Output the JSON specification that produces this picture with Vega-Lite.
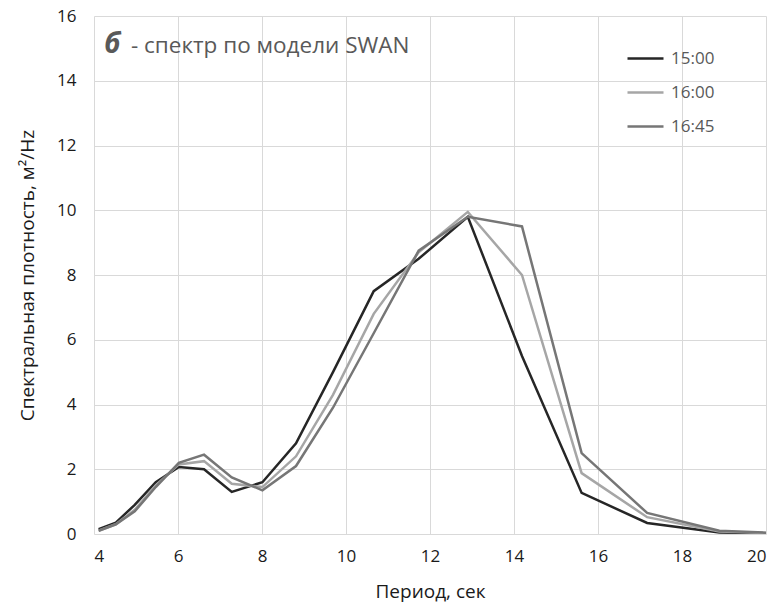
{
  "$schema": "https://vega.github.io/schema/vega-lite/v6.json",
  "width": 672,
  "height": 518,
  "autosize": "none",
  "padding": {"left": 94, "top": 16, "right": 15, "bottom": 82},
  "background": "white",
  "config": {"view": {"stroke": null}, "font": "Open Sans"},
  "datasets": {
    "spec": [
      {"period": 4.11, "value": 0.15, "series": "15:00"},
      {"period": 4.52, "value": 0.35, "series": "15:00"},
      {"period": 4.97, "value": 0.9, "series": "15:00"},
      {"period": 5.47, "value": 1.6, "series": "15:00"},
      {"period": 6.02, "value": 2.07, "series": "15:00"},
      {"period": 6.62, "value": 2.0, "series": "15:00"},
      {"period": 7.28, "value": 1.3, "series": "15:00"},
      {"period": 8.01, "value": 1.6, "series": "15:00"},
      {"period": 8.81, "value": 2.8, "series": "15:00"},
      {"period": 9.69, "value": 5.0, "series": "15:00"},
      {"period": 10.66, "value": 7.5, "series": "15:00"},
      {"period": 11.73, "value": 8.5, "series": "15:00"},
      {"period": 12.9, "value": 9.8, "series": "15:00"},
      {"period": 14.19, "value": 5.5, "series": "15:00"},
      {"period": 15.61, "value": 1.27, "series": "15:00"},
      {"period": 17.17, "value": 0.34, "series": "15:00"},
      {"period": 18.89, "value": 0.05, "series": "15:00"},
      {"period": 20.0, "value": 0.02, "series": "15:00"},
      {"period": 4.11, "value": 0.1, "series": "16:00"},
      {"period": 4.52, "value": 0.3, "series": "16:00"},
      {"period": 4.97, "value": 0.75, "series": "16:00"},
      {"period": 5.47, "value": 1.5, "series": "16:00"},
      {"period": 6.02, "value": 2.15, "series": "16:00"},
      {"period": 6.62, "value": 2.25, "series": "16:00"},
      {"period": 7.28, "value": 1.55, "series": "16:00"},
      {"period": 8.01, "value": 1.45, "series": "16:00"},
      {"period": 8.81, "value": 2.4, "series": "16:00"},
      {"period": 9.69, "value": 4.3, "series": "16:00"},
      {"period": 10.66, "value": 6.8, "series": "16:00"},
      {"period": 11.73, "value": 8.7, "series": "16:00"},
      {"period": 12.9, "value": 9.95, "series": "16:00"},
      {"period": 14.19, "value": 8.0, "series": "16:00"},
      {"period": 15.61, "value": 1.88, "series": "16:00"},
      {"period": 17.17, "value": 0.52, "series": "16:00"},
      {"period": 18.89, "value": 0.08, "series": "16:00"},
      {"period": 20.0, "value": 0.03, "series": "16:00"},
      {"period": 4.11, "value": 0.1, "series": "16:45"},
      {"period": 4.52, "value": 0.3, "series": "16:45"},
      {"period": 4.97, "value": 0.7, "series": "16:45"},
      {"period": 5.47, "value": 1.45, "series": "16:45"},
      {"period": 6.02, "value": 2.2, "series": "16:45"},
      {"period": 6.62, "value": 2.45, "series": "16:45"},
      {"period": 7.28, "value": 1.75, "series": "16:45"},
      {"period": 8.01, "value": 1.35, "series": "16:45"},
      {"period": 8.81, "value": 2.1, "series": "16:45"},
      {"period": 9.69, "value": 3.9, "series": "16:45"},
      {"period": 10.66, "value": 6.2, "series": "16:45"},
      {"period": 11.73, "value": 8.75, "series": "16:45"},
      {"period": 12.9, "value": 9.8, "series": "16:45"},
      {"period": 14.19, "value": 9.5, "series": "16:45"},
      {"period": 15.61, "value": 2.5, "series": "16:45"},
      {"period": 17.17, "value": 0.65, "series": "16:45"},
      {"period": 18.89, "value": 0.1, "series": "16:45"},
      {"period": 20.0, "value": 0.04, "series": "16:45"}
    ]
  },
  "layer": [
    {
      "data": {"name": "spec"},
      "mark": {"type": "line", "strokeWidth": 2.5, "clip": true},
      "encoding": {
        "x": {
          "field": "period",
          "type": "quantitative",
          "scale": {"domain": [4, 20], "nice": false, "zero": false},
          "axis": {
            "values": [4, 6, 8, 10, 12, 14, 16, 18, 20],
            "grid": true,
            "gridColor": "#d9d9d9",
            "gridWidth": 1,
            "domain": false,
            "ticks": false,
            "labelFontSize": 17,
            "labelColor": "#1a1a1a",
            "labelPadding": 14,
            "title": "Период, сек",
            "titleFontSize": 19,
            "titleFontWeight": "normal",
            "titleColor": "#1a1a1a",
            "titleBaseline": "alphabetic",
            "titleY": 63
          }
        },
        "y": {
          "field": "value",
          "type": "quantitative",
          "scale": {"domain": [0, 16], "nice": false},
          "axis": {
            "values": [0, 2, 4, 6, 8, 10, 12, 14, 16],
            "grid": true,
            "gridColor": "#d9d9d9",
            "gridWidth": 1,
            "domain": false,
            "ticks": false,
            "labelFontSize": 17,
            "labelColor": "#1a1a1a",
            "labelPadding": 18,
            "title": "Спектральная плотность, м²/Hz",
            "titleFontSize": 19,
            "titleFontWeight": "normal",
            "titleColor": "#1a1a1a",
            "titleAngle": -90,
            "titleAlign": "center",
            "titleBaseline": "alphabetic",
            "titleX": -61,
            "titleY": 259
          }
        },
        "color": {
          "field": "series",
          "type": "nominal",
          "scale": {"domain": ["15:00", "16:00", "16:45"], "range": ["#262626", "#a6a6a6", "#767676"]},
          "legend": {
            "orient": "none",
            "legendX": 532,
            "legendY": 23,
            "title": null,
            "padding": 0,
            "symbolType": "stroke",
            "symbolSize": 1296,
            "symbolStrokeWidth": 2.5,
            "labelFontSize": 17,
            "labelColor": "#595959",
            "labelOffset": 6,
            "rowPadding": 6
          }
        }
      }
    },
    {
      "data": {"values": [{}]},
      "mark": {"type": "text", "align": "left", "baseline": "alphabetic", "fontSize": 28, "fontWeight": "bold", "fontStyle": "italic", "color": "#595959"},
      "encoding": {
        "x": {"datum": 4.24, "type": "quantitative"},
        "y": {"datum": 14.85, "type": "quantitative"},
        "text": {"value": "б"}
      }
    },
    {
      "data": {"values": [{}]},
      "mark": {"type": "text", "align": "left", "baseline": "alphabetic", "fontSize": 22.5, "color": "#595959"},
      "encoding": {
        "x": {"datum": 4.88, "type": "quantitative"},
        "y": {"datum": 14.85, "type": "quantitative"},
        "text": {"value": "- спектр по модели SWAN"}
      }
    }
  ]
}
